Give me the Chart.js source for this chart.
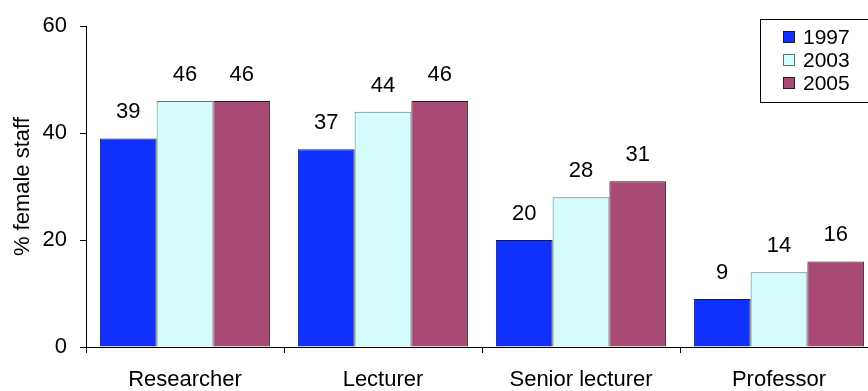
<!DOCTYPE html>
<html>
<head>
<meta charset="utf-8">
<script src="https://cdn.jsdelivr.net/npm/chart.js@4/dist/chart.umd.min.js"></script>
<style>
  html, body { margin: 0; padding: 0; background: #fff; overflow: hidden; }
  #wrap { width: 868px; height: 391px; overflow: hidden; }
</style>
</head>
<body>
<div id="wrap"><canvas id="chart" width="880" height="391"></canvas></div>
<script>
// --- Data ---
const categories = ['Researcher', 'Lecturer', 'Senior lecturer', 'Professor'];
const years = ['1997', '2003', '2005'];
const values1997 = [39, 37, 20, 9];
const values2003 = [46, 44, 28, 14];
const values2005 = [46, 46, 31, 16];
const yTicks = [0, 20, 40, 60];

const FONT = '"Liberation Sans", Arial, sans-serif';
const fills = ['#1030FF', '#D4FCFC', '#A94A74'];
const borders = ['#1a1a40', '#5c7878', '#2a1a22'];

// labels on top of each bar
const barLabels = {
  id: 'barLabels',
  afterDatasetsDraw(chart) {
    const ctx = chart.ctx;
    ctx.save();
    ctx.font = '22px ' + FONT;
    ctx.fillStyle = '#000';
    ctx.textAlign = 'center';
    ctx.textBaseline = 'alphabetic';
    chart.data.datasets.forEach((ds, i) => {
      chart.getDatasetMeta(i).data.forEach((bar, j) => {
        ctx.fillText(String(ds.data[j]), bar.x, bar.y - 20);
      });
    });
    ctx.restore();
  }
};

// boxed legend in the top right corner
const boxLegend = {
  id: 'boxLegend',
  afterDraw(chart) {
    const ctx = chart.ctx;
    ctx.save();
    ctx.strokeStyle = '#000';
    ctx.lineWidth = 1;
    ctx.strokeRect(760.5, 19.5, 140, 83);
    ctx.font = '21px ' + FONT;
    ctx.textBaseline = 'middle';
    chart.data.datasets.forEach((ds, i) => {
      const cy = 37 + i * 23;
      ctx.fillStyle = ds.backgroundColor;
      ctx.fillRect(783, cy - 6, 12, 12);
      ctx.strokeStyle = ds.borderColor;
      ctx.strokeRect(783.5, cy - 5.5, 11, 11);
      ctx.fillStyle = '#000';
      ctx.fillText(ds.label, 803, cy + 1);
    });
    ctx.restore();
  }
};

const seriesValues = [values1997, values2003, values2005];

new Chart(document.getElementById('chart'), {
  type: 'bar',
  data: {
    labels: categories,
    datasets: years.map((y, i) => ({
      label: y,
      data: seriesValues[i],
      backgroundColor: fills[i],
      borderColor: borders[i],
      borderWidth: 1,
      categoryPercentage: 0.86,
      barPercentage: 1.0
    }))
  },
  options: {
    responsive: false,
    animation: false,
    layout: { padding: { top: 25, right: 2, bottom: 0, left: 0 } },
    plugins: { legend: { display: false }, tooltip: { enabled: false } },
    scales: {
      x: {
        afterFit: s => { s.height = 44; },
        grid: { offset: true, drawOnChartArea: false, drawTicks: true, tickLength: 6, color: '#000' },
        border: { display: true, color: '#000', width: 1 },
        ticks: { color: '#000', font: { family: FONT, size: 22 }, padding: 14, maxRotation: 0 }
      },
      y: {
        min: 0, max: 60,
        afterFit: s => { s.width = 86; },
        afterBuildTicks: s => { s.ticks = yTicks.map(v => ({ value: v })); },
        grid: { drawOnChartArea: false, drawTicks: true, tickLength: 6, color: '#000' },
        border: { display: true, color: '#000', width: 1 },
        ticks: { color: '#000', font: { family: FONT, size: 22 }, padding: 13 },
        title: { display: true, text: '% female staff', color: '#000', font: { family: FONT, size: 22 }, padding: { top: 10, bottom: 0 } }
      }
    }
  },
  plugins: [barLabels, boxLegend]
});
</script>
</body>
</html>
